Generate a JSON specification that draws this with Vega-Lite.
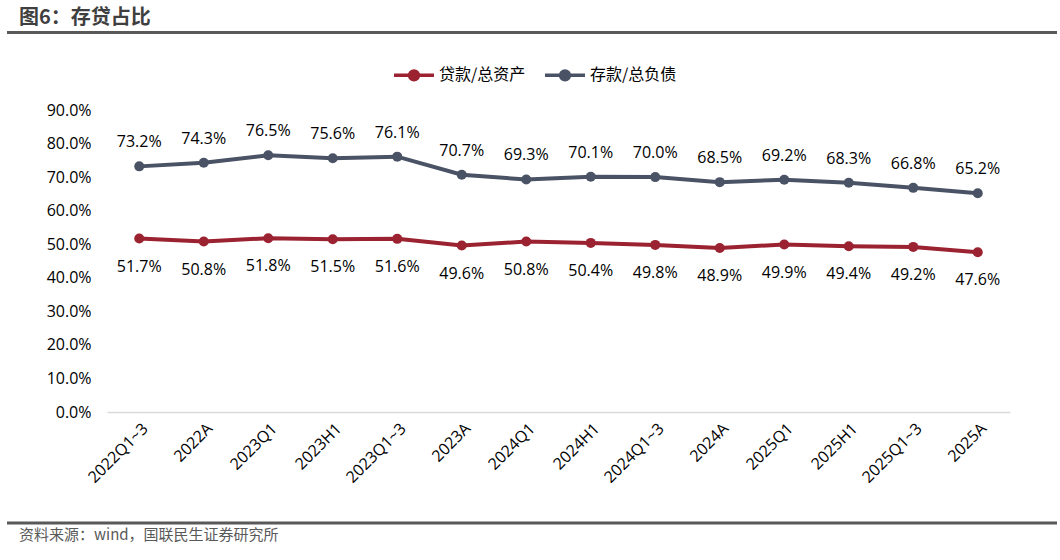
{
  "$schema": "https://vega.github.io/schema/vega-lite/v6.json",
  "background": "white",
  "padding": {"left": 5, "right": 5, "top": 8, "bottom": 0},
  "config": {
    "font": "Open Sans, Noto Sans CJK SC",
    "view": {"stroke": null}
  },
  "spacing": 19,
  "resolve": {"scale": {"color": "independent", "x": "independent", "y": "independent"}, "legend": {"color": "independent"}},
  "vconcat": [
    {
      "width": 950,
      "height": 1,
      "title": {"text": "图6：存贷占比", "anchor": "start", "frame": "group", "fontSize": 20, "fontWeight": "bold", "color": "#3F3F3F", "font": "Noto Sans CJK SC", "offset": 3, "dx": -88},
      "data": {"values": [{"a": 0, "b": 1}]},
      "mark": {"type": "rule", "color": "#595959", "strokeWidth": 3},
      "encoding": {
        "x": {"field": "a", "type": "quantitative", "scale": {"domain": [0, 1], "nice": false, "zero": false, "range": [-100, 950]}, "axis": null},
        "x2": {"field": "b"}
      }
    },
    {
      "width": 903,
      "height": 302,
      "data": {
        "values": [
          {"period": "2022Q1~3", "series": "贷款/总资产", "value": 0.517},
          {"period": "2022A", "series": "贷款/总资产", "value": 0.508},
          {"period": "2023Q1", "series": "贷款/总资产", "value": 0.518},
          {"period": "2023H1", "series": "贷款/总资产", "value": 0.515},
          {"period": "2023Q1~3", "series": "贷款/总资产", "value": 0.516},
          {"period": "2023A", "series": "贷款/总资产", "value": 0.496},
          {"period": "2024Q1", "series": "贷款/总资产", "value": 0.508},
          {"period": "2024H1", "series": "贷款/总资产", "value": 0.504},
          {"period": "2024Q1~3", "series": "贷款/总资产", "value": 0.498},
          {"period": "2024A", "series": "贷款/总资产", "value": 0.489},
          {"period": "2025Q1", "series": "贷款/总资产", "value": 0.499},
          {"period": "2025H1", "series": "贷款/总资产", "value": 0.494},
          {"period": "2025Q1~3", "series": "贷款/总资产", "value": 0.492},
          {"period": "2025A", "series": "贷款/总资产", "value": 0.476},
          {"period": "2022Q1~3", "series": "存款/总负债", "value": 0.732},
          {"period": "2022A", "series": "存款/总负债", "value": 0.743},
          {"period": "2023Q1", "series": "存款/总负债", "value": 0.765},
          {"period": "2023H1", "series": "存款/总负债", "value": 0.756},
          {"period": "2023Q1~3", "series": "存款/总负债", "value": 0.761},
          {"period": "2023A", "series": "存款/总负债", "value": 0.707},
          {"period": "2024Q1", "series": "存款/总负债", "value": 0.693},
          {"period": "2024H1", "series": "存款/总负债", "value": 0.701},
          {"period": "2024Q1~3", "series": "存款/总负债", "value": 0.700},
          {"period": "2024A", "series": "存款/总负债", "value": 0.685},
          {"period": "2025Q1", "series": "存款/总负债", "value": 0.692},
          {"period": "2025H1", "series": "存款/总负债", "value": 0.683},
          {"period": "2025Q1~3", "series": "存款/总负债", "value": 0.668},
          {"period": "2025A", "series": "存款/总负债", "value": 0.652}
        ]
      },
      "encoding": {
        "x": {
          "field": "period", "type": "nominal", "sort": null,
          "scale": {"type": "point", "padding": 0.5},
          "axis": {"title": null, "labelAngle": -45, "labelFontSize": 16, "labelColor": "#000000", "ticks": false, "domainColor": "#d9d9d9", "domainWidth": 1.5, "labelPadding": 8}
        },
        "y": {
          "field": "value", "type": "quantitative",
          "scale": {"domain": [0, 0.9], "nice": false},
          "axis": {"title": null, "format": ".1%", "values": [0, 0.1, 0.2, 0.3, 0.4, 0.5, 0.6, 0.7, 0.8, 0.9], "grid": false, "ticks": false, "domain": false, "labelFontSize": 16, "labelColor": "#000000", "labelPadding": 16, "minExtent": 100}
        },
        "color": {
          "field": "series", "type": "nominal",
          "scale": {"domain": ["贷款/总资产", "存款/总负债"], "range": ["#9B2230", "#4A5365"]},
          "legend": {
            "title": null, "orient": "none", "legendX": 285, "legendY": -57, "direction": "horizontal",
            "symbolType": "M-1,0H1M0.22,0A0.22,0.22,0,1,1,-0.22,0A0.22,0.22,0,1,1,0.22,0Z",
            "symbolSize": 1600, "symbolStrokeWidth": 3.5, "labelFontSize": 16, "labelColor": "#000000",
            "labelFont": "Noto Sans CJK SC", "labelOffset": 3, "columnPadding": 12
          }
        }
      },
      "layer": [
        {"mark": {"type": "line", "strokeWidth": 4}},
        {"mark": {"type": "point", "filled": true, "size": 100, "opacity": 1}},
        {
          "transform": [{"filter": "datum.series === '存款/总负债'"}],
          "mark": {"type": "text", "dy": -24, "fontSize": 16, "color": "#000000"},
          "encoding": {"text": {"field": "value", "format": ".1%"}, "color": {"value": "#000000"}}
        },
        {
          "transform": [{"filter": "datum.series === '贷款/总资产'"}],
          "mark": {"type": "text", "dy": 28, "fontSize": 16, "color": "#000000"},
          "encoding": {"text": {"field": "value", "format": ".1%"}, "color": {"value": "#000000"}}
        }
      ]
    },
    {
      "width": 950,
      "height": 18,
      "title": {"text": "资料来源：wind，国联民生证券研究所", "orient": "bottom", "anchor": "start", "frame": "group", "fontSize": 15, "fontWeight": "normal", "color": "#595959", "font": "Noto Sans CJK SC", "offset": 3, "dx": -88},
      "data": {"values": [{"a": 0, "b": 1, "y": 0}]},
      "mark": {"type": "rule", "color": "#595959", "strokeWidth": 3},
      "encoding": {
        "x": {"field": "a", "type": "quantitative", "scale": {"domain": [0, 1], "nice": false, "zero": false, "range": [-100, 950]}, "axis": null},
        "x2": {"field": "b"},
        "y": {"field": "y", "type": "quantitative", "scale": {"domain": [0, 1], "nice": false}, "axis": null}
      }
    }
  ]
}
